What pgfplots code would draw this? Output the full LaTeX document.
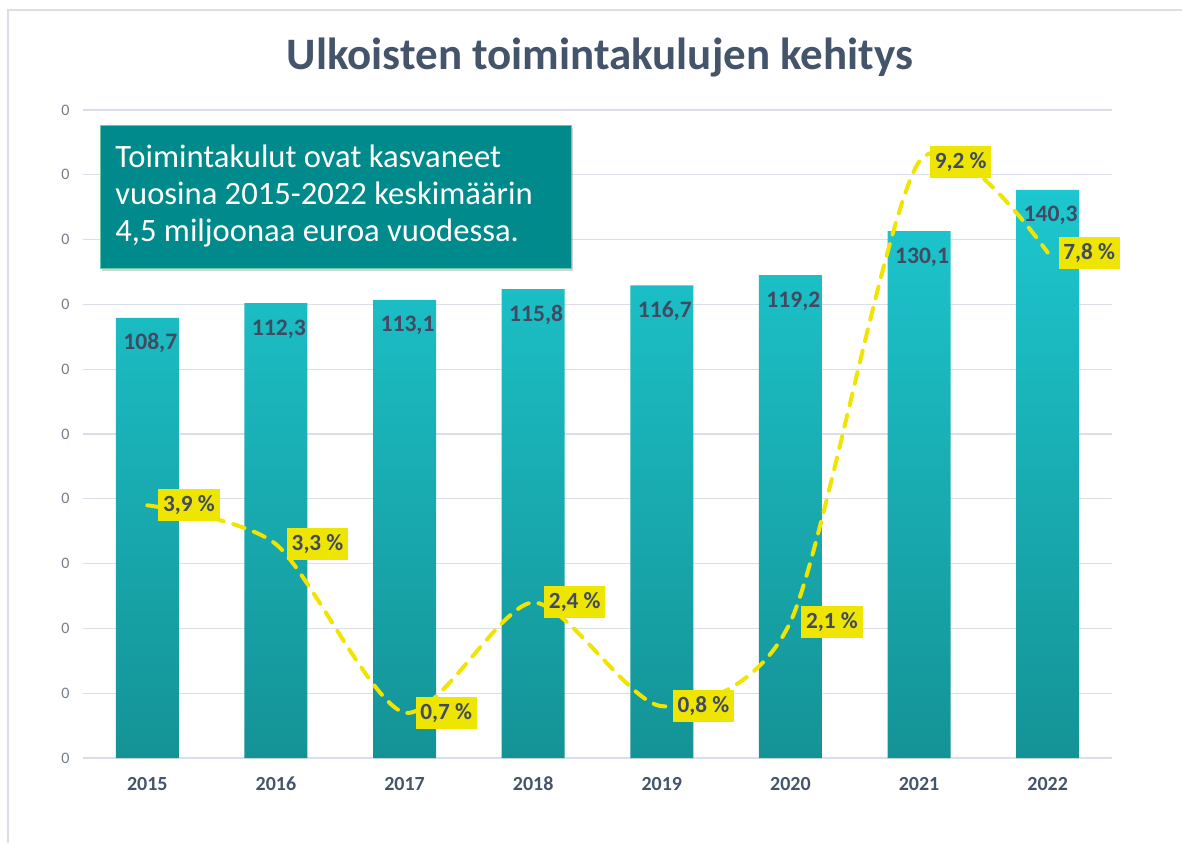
\documentclass[border=0pt]{standalone}
\usepackage{pgfplots}
\pgfplotsset{compat=1.18}
\usepackage{pgfplotstable}
\usepackage{fontspec}
\setmainfont{Carlito}
\usetikzlibrary{shadows}
\definecolor{bartop}{RGB}{29,199,207}
\definecolor{barbot}{RGB}{20,147,150}
\definecolor{titlec}{RGB}{68,84,106}
\definecolor{boxc}{RGB}{0,138,139}
\definecolor{yel}{RGB}{238,229,0}
\definecolor{linec}{RGB}{240,228,0}
\definecolor{gridc}{RGB}{218,223,231}
\definecolor{tickc}{RGB}{115,125,140}
\definecolor{labc}{RGB}{66,74,98}

\pgfplotstableread{
x y lab
0 108.7 108,7
1 112.3 112,3
2 113.1 113,1
3 115.8 115,8
4 116.7 116,7
5 119.2 119,2
6 130.1 130,1
7 140.3 140,3
}\bars

\pgfplotstableread{
x y lab
0 3.9 {3,9 \%}
1 3.3 {3,3 \%}
2 0.7 {0,7 \%}
3 2.4 {2,4 \%}
4 0.8 {0,8 \%}
5 2.1 {2,1 \%}
6 9.2 {9,2 \%}
7 7.8 {7,8 \%}
}\growth

\begin{document}
\begin{tikzpicture}[x=1pt,y=1pt]
\useasboundingbox (0,0) rectangle (591,421.5);
\draw[color=gridc, line width=0.9pt] (4,0) -- (4,416.5) -- (591,416.5);
\node[font=\bfseries\fontsize{22.5}{27}\selectfont, text=titlec, anchor=base] at (300,386.5) {Ulkoisten toimintakulujen kehitys};

\begin{axis}[
  at={(41.5pt,42.5pt)}, anchor=south west,
  width=514.5pt, height=324pt, scale only axis,
  xmin=-0.5, xmax=7.5, ymin=0, ymax=160,
  ytick={0,16,...,160}, yticklabel={0},
  yticklabel style={font=\fontsize{8}{10}\selectfont, text=tickc, inner sep=0pt, xshift=-6.5pt},
  xtick={0,...,7}, xticklabels={2015,2016,2017,2018,2019,2020,2021,2022},
  xticklabel style={font=\bfseries\fontsize{10}{12}\selectfont, text=titlec, inner sep=0pt, anchor=base, yshift=-16pt},
  axis line style={draw=none},
  major tick length=0pt, tick style={draw=none},
  ymajorgrids, grid style={gridc, line width=0.6pt},
  clip=false,
]
\addplot[ybar, bar width=31.5pt, draw=none, top color=bartop, bottom color=barbot,
  nodes near coords, point meta=explicit symbolic,
  every node near coord/.style={anchor=base, inner sep=0pt, yshift=-16pt, xshift=1.5pt,
    font=\bfseries\fontsize{11.8}{13}\selectfont, text=labc}]
  table[x=x, y=y, meta=lab] {\bars};
\end{axis}

\begin{axis}[
  at={(41.5pt,42.5pt)}, anchor=south west,
  width=514.5pt, height=324pt, scale only axis,
  xmin=-0.5, xmax=7.5, ymin=0, ymax=10,
  axis lines=none, clip=false,
]
\addplot[linec, line width=2pt, dash pattern=on 6pt off 5pt, line cap=round, smooth, tension=0.45,
  nodes near coords, point meta=explicit symbolic,
  every node near coord/.style={anchor=west, xshift=4.5pt, fill=yel, inner xsep=2.4pt, inner ysep=0pt,
    minimum height=16pt, font=\bfseries\fontsize{11.6}{13}\selectfont, text=labc}]
  table[x=x, y=y, meta=lab] {\growth};
\end{axis}

\fill[boxc, drop shadow={shadow xshift=1.2pt, shadow yshift=-1.5pt, opacity=0.35}] (50,287.5) rectangle (285.5,359);
\draw[color=boxc!80!green!60!white, line width=0.4pt] (50,287.5) rectangle (285.5,359);
\begin{scope}[every node/.style={anchor=base west, inner sep=0pt, text=white, font=\fontsize{16.3}{18.5}\selectfont}]
\node at (57.5,338) {Toimintakulut ovat kasvaneet};
\node at (57.5,319.5) {vuosina 2015-2022 keskimäärin};
\node at (57.5,301) {4,5 miljoonaa euroa vuodessa.};
\end{scope}
\end{tikzpicture}
\end{document}
